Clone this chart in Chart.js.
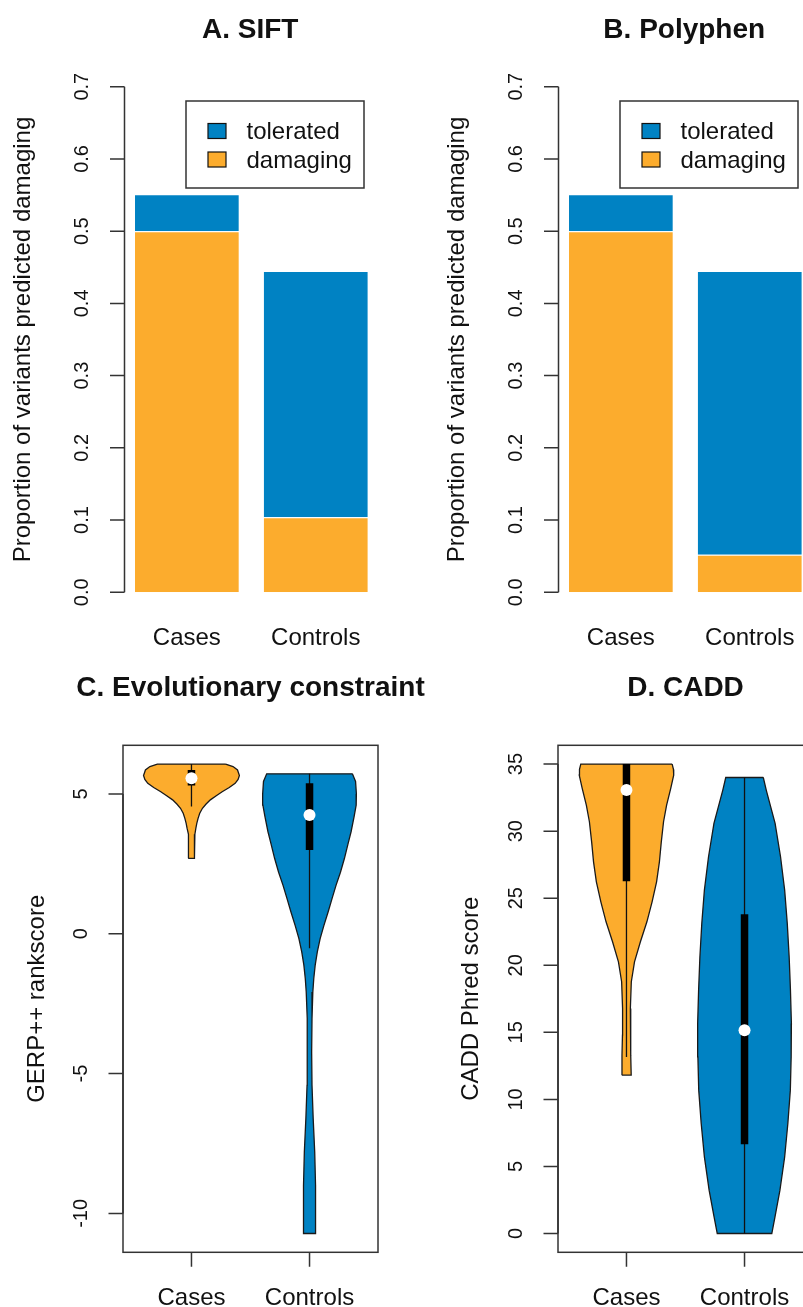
<!DOCTYPE html>
<html>
<head>
<meta charset="utf-8">
<script src="https://cdn.jsdelivr.net/npm/chart.js@4.4.1/dist/chart.umd.min.js"></script>
<style>
  html, body { margin: 0; padding: 0; background: #fff; }
  body { position: relative; width: 803px; height: 1307px; overflow: hidden; }
  canvas { position: absolute; }
  #sift { left: 0; top: 0; }
  #poly { left: 434px; top: 0; }
  #gerp { left: 0; top: 660px; }
  #cadd { left: 435px; top: 660px; }
</style>
</head>
<body>
<canvas id="sift" width="434" height="660"></canvas>
<canvas id="poly" width="434" height="660"></canvas>
<canvas id="gerp" width="435" height="647"></canvas>
<canvas id="cadd" width="435" height="647"></canvas>
<script>
// bar panels (A, B)
const barCategories = ['Cases', 'Controls'];
const barPositions = [0.7, 1.92];
const siftDamaging = [0.500, 0.104];
const siftTolerated = [0.051, 0.341];
const polyDamaging = [0.500, 0.052];
const polyTolerated = [0.051, 0.393];
const barTicks = [0, 0.1, 0.2, 0.3, 0.4, 0.5, 0.6, 0.7];

// violin panels (C, D): outline levels and half widths
const violinGroups = ['Cases', 'Controls'];

const gerpCasesLevels = [6.07, 5.98, 5.86, 5.66, 5.52, 5.38, 5.23, 5.08, 4.94, 4.79, 4.64, 4.49, 4.31, 4.13, 3.95, 3.77, 3.56, 3.35, 3.06, 2.86, 2.70];
const gerpCasesHalf = [0.289, 0.352, 0.39, 0.406, 0.395, 0.37, 0.32, 0.26, 0.21, 0.16, 0.124, 0.093, 0.07, 0.056, 0.045, 0.037, 0.029, 0.023, 0.023, 0.027, 0.028];
const gerpControlsLevels = [5.72, 5.45, 5.0, 4.6, 4.2, 3.65, 3.2, 2.7, 2.2, 1.74, 1.25, 0.79, 0.3, -0.17, -0.65, -1.12, -1.6, -2.08, -3.03, -4.23, -5.42, -6.61, -7.81, -9.0, -10.0, -10.72];
const gerpControlsHalf = [0.363, 0.39, 0.397, 0.395, 0.378, 0.352, 0.325, 0.296, 0.262, 0.225, 0.19, 0.158, 0.122, 0.09, 0.066, 0.048, 0.036, 0.028, 0.021, 0.018, 0.021, 0.031, 0.044, 0.051, 0.051, 0.051];
const gerpMedian = [5.56, 4.25];
const gerpQ1 = [5.30, 3.00];
const gerpQ3 = [5.86, 5.38];
const gerpWhiskLo = [4.55, -0.52];
const gerpWhiskHi = [6.07, 5.72];
const gerpTicks = [-10, -5, 0, 5];

const caddCasesLevels = [35, 34.6, 34.18, 33.19, 31.94, 30.7, 29.2, 27.71, 26.22, 24.73, 23.24, 21.75, 20.26, 18.77, 16.78, 14.79, 13.3, 11.81];
const caddCasesHalf = [0.387, 0.398, 0.40, 0.375, 0.34, 0.314, 0.295, 0.279, 0.255, 0.217, 0.173, 0.118, 0.068, 0.041, 0.033, 0.034, 0.038, 0.04];
const caddControlsLevels = [34.0, 33.06, 30.58, 28.09, 25.6, 23.12, 20.63, 18.15, 15.66, 13.17, 10.69, 8.2, 5.72, 3.23, 1.24, 0];
const caddControlsHalf = [0.159, 0.184, 0.259, 0.305, 0.34, 0.362, 0.378, 0.389, 0.397, 0.395, 0.388, 0.367, 0.34, 0.30, 0.258, 0.231];
const caddMedian = [33.06, 15.16];
const caddQ1 = [26.27, 6.66];
const caddQ3 = [35.0, 23.81];
const caddWhiskLo = [13.17, 0];
const caddWhiskHi = [35.0, 34.0];
const caddTicks = [0, 5, 10, 15, 20, 25, 30, 35];

const ORANGE = '#FCAC2D';
const BLUE = '#0082C3';
const FONT = '"Liberation Sans", Arial, Helvetica, sans-serif';

// R-like axes, titles, legend
const rStyle = {
  id: 'rStyle',
  afterDraw(chart, args, o) {
    const {ctx, chartArea: a} = chart;
    const x = chart.scales.x, y = chart.scales.y;
    ctx.save();
    ctx.strokeStyle = '#333';
    ctx.fillStyle = '#111';
    ctx.lineWidth = 1.5;

    ctx.font = 'bold 28px ' + FONT;
    ctx.textAlign = 'center';
    ctx.textBaseline = 'alphabetic';
    ctx.fillText(o.title, (a.left + a.right) / 2, o.titleY);

    if (o.box) ctx.strokeRect(a.left, a.top, a.right - a.left, a.bottom - a.top);

    const yt = o.yTicks;
    ctx.beginPath();
    ctx.moveTo(a.left, y.getPixelForValue(yt[yt.length - 1]));
    ctx.lineTo(a.left, y.getPixelForValue(yt[0]));
    yt.forEach(v => {
      const p = y.getPixelForValue(v);
      ctx.moveTo(a.left, p);
      ctx.lineTo(a.left - 14.5, p);
    });
    if (o.xTicks) {
      o.xPositions.forEach(v => {
        const p = x.getPixelForValue(v);
        ctx.moveTo(p, a.bottom);
        ctx.lineTo(p, a.bottom + 14.5);
      });
    }
    ctx.stroke();

    ctx.font = '20px ' + FONT;
    ctx.textBaseline = 'middle';
    yt.forEach(v => {
      ctx.save();
      ctx.translate(a.left - 42, y.getPixelForValue(v));
      ctx.rotate(-Math.PI / 2);
      ctx.fillText(o.yFormat(v), 0, 0);
      ctx.restore();
    });

    ctx.font = '24px ' + FONT;
    ctx.save();
    ctx.translate(o.yTitleX, (a.top + a.bottom) / 2);
    ctx.rotate(-Math.PI / 2);
    ctx.fillText(o.yTitle, 0, 0);
    ctx.restore();

    ctx.textBaseline = 'alphabetic';
    o.xLabels.forEach((t, i) => ctx.fillText(t, x.getPixelForValue(o.xPositions[i]), 645));

    if (o.legend) {
      const L = o.legend;
      ctx.strokeRect(L.x, L.y, L.w, L.h);
      const items = chart.data.datasets.slice().reverse();
      ctx.textAlign = 'left';
      ctx.lineWidth = 1.2;
      items.forEach((d, i) => {
        const top = L.y + 22.5 + i * 28.5;
        ctx.fillStyle = d.backgroundColor;
        ctx.fillRect(L.x + 22, top, 18, 15);
        ctx.strokeStyle = '#111';
        ctx.strokeRect(L.x + 22, top, 18, 15);
        ctx.fillStyle = '#111';
        ctx.fillText(d.label, L.x + 60.5, top + 15.5);
      });
    }
    ctx.restore();
  }
};

function barChart(id, title, damaging, tolerated) {
  const pts = vals => barPositions.map((p, i) => ({x: p, y: vals[i]}));
  const common = {borderColor: '#ffffff', borderWidth: 1, barPercentage: 1 / 1.22, categoryPercentage: 1};
  return new Chart(document.getElementById(id), {
    type: 'bar',
    data: {
      datasets: [
        Object.assign({label: 'damaging', data: pts(damaging), backgroundColor: ORANGE}, common),
        Object.assign({label: 'tolerated', data: pts(tolerated), backgroundColor: BLUE}, common)
      ]
    },
    options: {
      responsive: false,
      animation: false,
      devicePixelRatio: 1,
      layout: {padding: {left: 124.5, right: 58, top: 86.7, bottom: 67.7}},
      scales: {
        x: {type: 'linear', min: 0.11, max: 2.49, offset: false, stacked: true, display: false,
            afterBuildTicks: s => { s.ticks = barPositions.map(v => ({value: v})); }},
        y: {min: 0, max: 0.7, stacked: true, display: false}
      },
      plugins: {
        legend: {display: false},
        tooltip: {enabled: false},
        rStyle: {
          title: title, titleY: 38,
          yTicks: barTicks, yFormat: v => v.toFixed(1),
          yTitle: 'Proportion of variants predicted damaging', yTitleX: 23,
          xLabels: barCategories, xPositions: barPositions,
          legend: {x: 186, y: 101, w: 178, h: 87}
        }
      }
    },
    plugins: [rStyle]
  });
}

function outline(center, levels, half) {
  const right = levels.map((v, i) => ({x: center + half[i], y: v}));
  const left = levels.map((v, i) => ({x: center - half[i], y: v})).reverse();
  return right.concat(left, [right[0]]);
}

function violinChart(id, title, yTitle, yTitleX, ticks, shapes, med, q1, q3, lo, hi) {
  const all = shapes[0].levels.concat(shapes[1].levels);
  const dMin = Math.min(...all), dMax = Math.max(...all);
  const pad = (dMax - dMin) * 0.04;
  const pos = [1, 2];
  const colors = [ORANGE, BLUE];
  const seg = (p, a, b, w, c) => ({data: [{x: p, y: a}, {x: p, y: b}], showLine: true, borderColor: c, borderWidth: w,
    borderCapStyle: 'butt', pointRadius: 0});
  const datasets = [
    {data: pos.map((p, i) => ({x: p, y: med[i]})), pointRadius: 6, pointBackgroundColor: '#ffffff', pointBorderWidth: 0, showLine: false}
  ];
  pos.forEach((p, i) => datasets.push(seg(p, q1[i], q3[i], 7.5, '#000')));
  pos.forEach((p, i) => datasets.push(seg(p, lo[i], hi[i], 1.3, '#111')));
  pos.forEach((p, i) => datasets.push({
    data: outline(p, shapes[i].levels, shapes[i].half), showLine: true, fill: 'shape',
    backgroundColor: colors[i], borderColor: '#1a1a1a', borderWidth: 1.3, pointRadius: 0
  }));
  return new Chart(document.getElementById(id), {
    type: 'scatter',
    data: {datasets},
    options: {
      responsive: false,
      animation: false,
      devicePixelRatio: 1,
      layout: {padding: {left: 123, right: 57, top: 85.3, bottom: 54.7}},
      scales: {
        x: {type: 'linear', min: 0.42, max: 2.58, display: false},
        y: {type: 'linear', min: dMin - pad, max: dMax + pad, display: false}
      },
      plugins: {
        legend: {display: false},
        tooltip: {enabled: false},
        rStyle: {
          title: title, titleY: 36, box: true,
          yTicks: ticks, yFormat: v => String(v),
          yTitle: yTitle, yTitleX: yTitleX,
          xLabels: violinGroups, xPositions: pos, xTicks: true
        }
      }
    },
    plugins: [rStyle]
  });
}

barChart('sift', 'A. SIFT', siftDamaging, siftTolerated);
barChart('poly', 'B. Polyphen', polyDamaging, polyTolerated);

violinChart('gerp', 'C. Evolutionary constraint', 'GERP++ rankscore', 37.5, gerpTicks,
  [{levels: gerpCasesLevels, half: gerpCasesHalf}, {levels: gerpControlsLevels, half: gerpControlsHalf}],
  gerpMedian, gerpQ1, gerpQ3, gerpWhiskLo, gerpWhiskHi);

violinChart('cadd', 'D. CADD', 'CADD Phred score', 36.7, caddTicks,
  [{levels: caddCasesLevels, half: caddCasesHalf}, {levels: caddControlsLevels, half: caddControlsHalf}],
  caddMedian, caddQ1, caddQ3, caddWhiskLo, caddWhiskHi);
</script>
</body>
</html>
